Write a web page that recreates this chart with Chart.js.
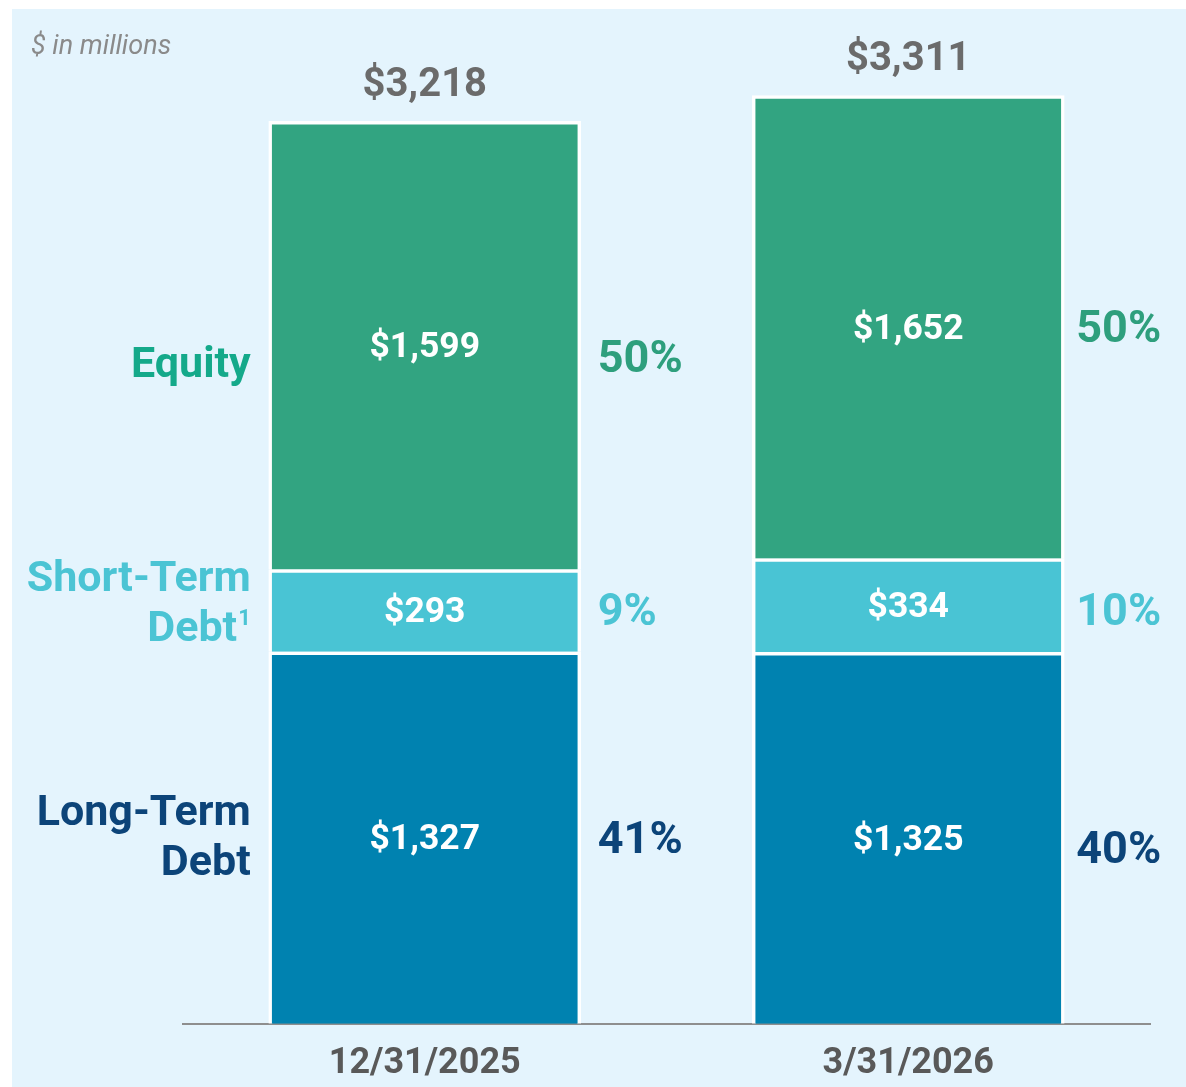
<!DOCTYPE html>
<html>
<head>
<meta charset="utf-8">
<script src="https://cdn.jsdelivr.net/npm/chart.js@4.4.1/dist/chart.umd.min.js"></script>
<style>
	html, body { margin: 0; padding: 0; background: #ffffff; }
	canvas { display: block; }
</style>
</head>
<body>
<canvas id="capChart" width="1186" height="1087"></canvas>
<script>
// values ($ in millions)
const categories = ['12/31/2025', '3/31/2026'];
const longTermDebt = [1327, 1325];
const shortTermDebt = [293, 334];
const equity = [1599, 1652];
const totals = [3218, 3311];
const longTermPct = [41, 40];
const shortTermPct = [9, 10];
const equityPct = [50, 50];

const FONT = 'Roboto, "Noto Sans", sans-serif';
const CAP = 0.711; // cap height of Roboto, in em
const colors = {
	bg: '#e4f4fd',
	equity: '#32a481',
	shortTerm: '#49c4d4',
	longTerm: '#0082b0',
	equityText: '#14a98a',
	equityPct: '#2e9f7d',
	shortText: '#4bc4d4',
	longText: '#0c4479',
	total: '#6b6b6b',
	axisText: '#595959',
	axis: '#8e8e8e'
};

// draw text so that its cap height is centred on y
function capText(ctx, text, x, y, size, align) {
	ctx.font = 'bold ' + size + 'px ' + FONT;
	ctx.textAlign = align;
	ctx.textBaseline = 'alphabetic';
	ctx.fillText(text, x, y + size * CAP / 2);
}

// light blue panel behind the chart
const panelPlugin = {
	id: 'panel',
	beforeDraw(chart) {
		const ctx = chart.ctx;
		ctx.save();
		ctx.fillStyle = '#ffffff';
		ctx.fillRect(0, 0, chart.width, chart.height);
		ctx.fillStyle = colors.bg;
		ctx.fillRect(12, 9, chart.width - 12, chart.height - 9);
		ctx.fillStyle = '#8a8a8a';
		ctx.font = 'italic 27px ' + FONT;
		ctx.textAlign = 'left';
		ctx.textBaseline = 'alphabetic';
		ctx.fillText('$ in millions', 31, 54);
		ctx.restore();
	}
};

// segment values, totals, percentages and series names
const labelPlugin = {
	id: 'labels',
	afterDatasetsDraw(chart) {
		const ctx = chart.ctx;
		const pcts = [longTermPct, shortTermPct, equityPct];
		const pctColors = [colors.longText, colors.shortText, colors.equityPct];
		const pctNudge = [[-1, 9], [-2, 4], [11, -1]];
		const pctGap = [17, 12];
		ctx.save();
		chart.data.datasets.forEach((ds, di) => {
			const meta = chart.getDatasetMeta(di);
			meta.data.forEach((bar, i) => {
				const mid = (bar.y + bar.base) / 2;
				ctx.fillStyle = '#ffffff';
				capText(ctx, '$' + ds.data[i].toLocaleString('en-US'), bar.x, mid - 1, 35.5, 'center');
				ctx.fillStyle = pctColors[di];
				capText(ctx, pcts[di][i] + '%', bar.x + bar.width / 2 + pctGap[i], mid + pctNudge[di][i], 45, 'left');
			});
		});
		// totals above the stacks
		const top = chart.getDatasetMeta(chart.data.datasets.length - 1);
		top.data.forEach((bar, i) => {
			ctx.fillStyle = colors.total;
			capText(ctx, '$' + totals[i].toLocaleString('en-US'), bar.x, bar.y - 40, 40, 'center');
		});
		// series names left of the first bar
		const nameLines = [['Long-Term', 'Debt'], ['Short-Term', 'Debt'], ['Equity']];
		const nameColors = [colors.longText, colors.shortText, colors.equityText];
		const nudge = [-3, -10, 16];
		chart.data.datasets.forEach((ds, di) => {
			const bar = chart.getDatasetMeta(di).data[0];
			const right = bar.x - bar.width / 2 - 18;
			const lines = nameLines[di];
			const mid = (bar.y + bar.base) / 2 + nudge[di];
			ctx.fillStyle = nameColors[di];
			lines.forEach((line, li) => {
				const y = mid + (li - (lines.length - 1) / 2) * 50;
				let x = right;
				if (di === 1 && li === 1) {
					// footnote marker
					capText(ctx, '1', x, y - 9, 22, 'right');
					x -= ctx.measureText('1').width + 1;
				}
				capText(ctx, line, x, y, 43, 'right');
			});
		});
		ctx.restore();
	}
};

const barStyle = {
	borderColor: '#ffffff',
	borderWidth: 3.5,
	barThickness: 312
};

new Chart(document.getElementById('capChart'), {
	type: 'bar',
	data: {
		labels: categories,
		datasets: [
			Object.assign({ label: 'Long-Term Debt', data: longTermDebt, backgroundColor: colors.longTerm }, barStyle),
			Object.assign({ label: 'Short-Term Debt', data: shortTermDebt, backgroundColor: colors.shortTerm }, barStyle),
			Object.assign({ label: 'Equity', data: equity, backgroundColor: colors.equity }, barStyle)
		]
	},
	options: {
		responsive: false,
		animation: false,
		devicePixelRatio: 1,
		layout: {
			padding: { left: 183, right: 36, top: 10, bottom: -18 }
		},
		scales: {
			x: {
				stacked: true,
				grid: { display: false, drawTicks: false, tickLength: 0 },
				border: { display: true, color: colors.axis, width: 2 },
				ticks: {
					color: colors.axisText,
					font: { family: FONT, size: 36, weight: 'bold' },
					padding: 19
				}
			},
			y: {
				stacked: true,
				display: false,
				min: 0,
				max: 3616
			}
		},
		plugins: {
			legend: { display: false },
			tooltip: { enabled: false },
			title: { display: false }
		}
	},
	plugins: [panelPlugin, labelPlugin]
});
</script>
</body>
</html>
